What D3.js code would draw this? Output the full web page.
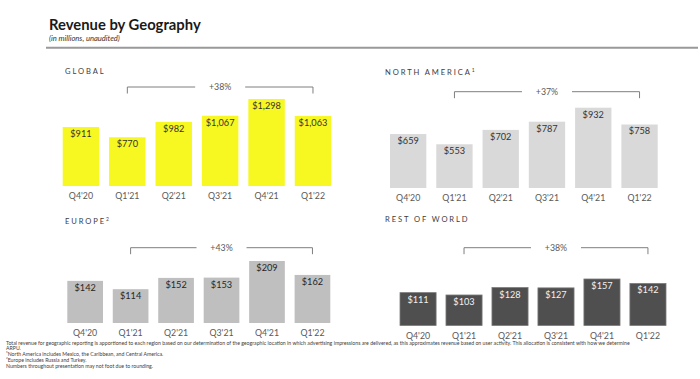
<!DOCTYPE html>
<html><head><meta charset="utf-8">
<script src="https://cdn.jsdelivr.net/npm/d3@7"></script>
<style>
html,body{margin:0;padding:0;background:#fff;}
svg{display:block;}
</style></head>
<body>
<svg id="chart" width="700" height="379"></svg>
<script>
// ---------- DATA ----------
const categories = ["Q4'20","Q1'21","Q2'21","Q3'21","Q4'21","Q1'22"];
const globalValues = [911, 770, 982, 1067, 1298, 1063];
const northAmericaValues = [659, 553, 702, 787, 932, 758];
const europeValues = [142, 114, 152, 153, 209, 162];
const restOfWorldValues = [111, 103, 128, 127, 157, 142];
const panelTitles = ["GLOBAL", "NORTH AMERICA", "EUROPE", "REST OF WORLD"];
const panelSuperscripts = ["", "1", "2", ""];
const growthLabels = ["+38%", "+37%", "+43%", "+38%"];
const chartTitle = "Revenue by Geography";
const chartSubtitle = "(in millions, unaudited)";
const footnotes = [
  "Total revenue for geographic reporting is apportioned to each region based on our determination of the geographic location in which advertising impressions are delivered, as this approximates revenue based on user activity.  This allocation is consistent with how we determine",
  "ARPU.",
  "\u00B9North America includes Mexico, the Caribbean, and Central America.",
  "\u00B2Europe includes Russia and Turkey.",
  "Numbers throughout presentation may not foot due to rounding."
];

// ---------- LAYOUT ----------
const panels = [
  {values: globalValues, x0: 62.7, x1: 331.2, base: 186, topPx: 99, dmin: 98, titleX: 65, titleY: 74, brY: 87,
   fill: "#f7f722", stroke: "none", labelColor: "#333"},
  {values: northAmericaValues, x0: 390, x1: 657.7, base: 188, topPx: 107.7, dmin: 100, titleX: 385, titleY: 74.5, brY: 91.7,
   fill: "#d9d9d9", stroke: "none", labelColor: "#333"},
  {values: europeValues, x0: 67.3, x1: 330.3, base: 323, topPx: 261, dmin: 0, titleX: 65, titleY: 223.5, brY: 247.7,
   fill: "#bfbfbf", stroke: "none", labelColor: "#262626"},
  {values: restOfWorldValues, x0: 400, x1: 666, base: 325.5, topPx: 279, dmin: 0, titleX: 385, titleY: 222, brY: 247.7,
   fill: "#4f4f4f", stroke: "#7a7a7a", labelColor: "#f2f2f2"}
];

const svg = d3.select("#chart");
const FONT = "Lato, 'Open Sans', sans-serif";

// Title
svg.append("text").attr("x", 49).attr("y", 30)
  .attr("font-family", FONT).attr("font-weight", 700).attr("font-size", 14.8)
  .attr("fill", "#1a1a1a").text(chartTitle);
svg.append("text").attr("x", 49).attr("y", 41)
  .attr("font-family", FONT).attr("font-style", "italic").attr("font-size", 7.6)
  .attr("fill", "#333").text(chartSubtitle);
svg.append("line").attr("x1", 46).attr("x2", 698).attr("y1", 47.8).attr("y2", 47.8)
  .attr("stroke", "#999").attr("stroke-width", 2);

panels.forEach((p, i) => {
  const g = svg.append("g");
  const x = d3.scaleBand().domain(categories).range([p.x0, p.x1]).paddingInner(0.215).paddingOuter(0);
  const y = d3.scaleLinear().domain([p.dmin, d3.max(p.values)]).range([p.base, p.topPx]);

  // panel title
  const t = g.append("text").attr("x", p.titleX).attr("y", p.titleY)
    .attr("font-family", FONT).attr("font-size", 7.6).attr("letter-spacing", 1.9)
    .attr("fill", "#404040").text(panelTitles[i]);
  if (panelSuperscripts[i]) {
    t.append("tspan").attr("font-size", 5).attr("dy", -3).text(panelSuperscripts[i]);
  }

  // bars
  g.selectAll("rect").data(p.values).join("rect")
    .attr("x", (d, j) => x(categories[j]))
    .attr("y", d => y(d))
    .attr("width", x.bandwidth())
    .attr("height", d => p.base - y(d))
    .attr("fill", p.fill)
    .attr("stroke", p.stroke).attr("stroke-width", 0.8);

  // value labels
  g.selectAll("text.val").data(p.values).join("text").attr("class", "val")
    .attr("x", (d, j) => x(categories[j]) + x.bandwidth() / 2)
    .attr("y", d => y(d) + 10)
    .attr("text-anchor", "middle")
    .attr("font-family", FONT).attr("font-size", 9.2)
    .attr("fill", p.labelColor)
    .text(d => "$" + d3.format(",")(d));

  // axis (category labels)
  const axis = d3.axisBottom(x).tickSize(0).tickPadding(0);
  const ag = g.append("g").attr("transform", `translate(0,${p.base + 13.3})`).call(axis);
  ag.select(".domain").remove();
  ag.selectAll("text").attr("font-family", FONT).attr("font-size", 8.8)
    .attr("fill", "#595959").attr("dy", 0);

  // growth bracket from 2nd to last bar
  const bx1 = x(categories[1]) + x.bandwidth() / 2;
  const bx2 = x(categories[categories.length - 1]) + x.bandwidth() / 2;
  const mid = (bx1 + bx2) / 2;
  const gap = 25;
  const tick = 6.5;
  const path = d3.path();
  path.moveTo(bx1, p.brY + tick); path.lineTo(bx1, p.brY); path.lineTo(mid - gap, p.brY);
  path.moveTo(mid + gap, p.brY); path.lineTo(bx2, p.brY); path.lineTo(bx2, p.brY + tick);
  g.append("path").attr("d", path.toString()).attr("fill", "none")
    .attr("stroke", "#7f7f7f").attr("stroke-width", 1);
  g.append("text").attr("x", mid).attr("y", p.brY + 3)
    .attr("text-anchor", "middle").attr("font-family", FONT).attr("font-size", 8.8)
    .attr("fill", "#595959").text(growthLabels[i]);
});

// footnotes
svg.append("g").selectAll("text").data(footnotes).join("text")
  .attr("x", 6).attr("y", (d, i) => 344.5 + i * 5.75)
  .attr("font-family", FONT).attr("font-size", 5.2)
  .attr("fill", "#404040").text(d => d);
</script>
</body></html>
